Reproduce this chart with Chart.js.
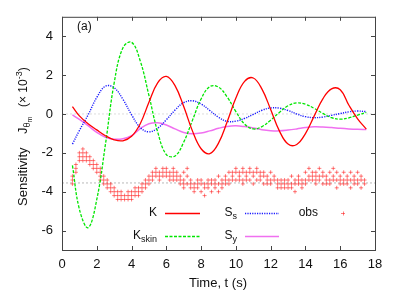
<!DOCTYPE html>
<html>
<head>
<meta charset="utf-8">
<script src="https://cdn.jsdelivr.net/npm/chart.js@4.4.0/dist/chart.umd.min.js"></script>
<style>
html, body { margin: 0; padding: 0; background: #fff; }
</style>
</head>
<body>
<canvas id="chart1" width="399" height="302"></canvas>
<script>
// sample times (s) for the sensitivity curves
const times = [0.6, 1.0, 1.5, 2.0, 2.5, 3.0, 3.5, 4.0, 4.5, 5.0, 5.5, 6.0, 6.5, 7.0, 7.5, 8.0, 8.5,
    9.0, 9.5, 10.0, 10.5, 11.0, 11.5, 12.0, 12.5, 13.0, 13.5, 14.0, 14.5, 15.0, 15.5, 16.0, 16.5, 17.0, 17.5];

// values in units of 1e-3
const kVals = [0.38, -0.1, -0.5, -0.82, -1.12, -1.33, -1.38, -1.15, -0.5, 0.6, 1.6, 1.93, 1.46, 0.38, -0.87, -1.79, -2.04,
    -1.5, -0.4, 0.82, 1.68, 1.85, 1.28, 0.23, -0.87, -1.55, -1.57, -1.01, -0.11, 0.78, 1.29, 1.25, 0.45, -0.25, -0.78];
const kSkinVals = [-2.65, -4.9, -5.85, -4.4, -1.55, 1.6, 3.4, 3.69, 2.73, 0.95, -0.92, -2.09, -2.16, -1.45, -0.33, 0.77, 1.41,
    1.38, 0.87, 0.12, -0.52, -0.77, -0.65, -0.32, 0.08, 0.42, 0.57, 0.5, 0.29, 0.03, -0.19, -0.27, -0.2, -0.06, 0.08];
const ssVals = [-1.55, -0.85, -0.05, 0.85, 1.43, 1.35, 0.76, -0.04, -0.7, -0.92, -0.73, -0.3, 0.2, 0.58, 0.68, 0.51, 0.18,
    -0.17, -0.38, -0.37, -0.23, -0.02, 0.19, 0.31, 0.3, 0.18, 0.0, -0.14, -0.19, -0.16, -0.07, 0.02, 0.11, 0.15, 0.12];
const syVals = [-0.05, -0.28, -0.6, -0.95, -1.2, -1.3, -1.28, -1.12, -0.75, -0.5, -0.45, -0.57, -0.77, -0.95, -1.02, -0.98, -0.87,
    -0.74, -0.64, -0.61, -0.65, -0.72, -0.81, -0.86, -0.87, -0.83, -0.77, -0.7, -0.66, -0.67, -0.7, -0.74, -0.77, -0.79, -0.8];

// observations: [time, values...]
const obsRows = [
    [0.6, -3.2, -3.4, -3.6], [0.8, -2.6, -2.8, -3.0], [1.0, -2.0, -2.2, -2.4], [1.2, -1.8, -2.0, -2.2, -2.4],
    [1.4, -2.0, -2.2, -2.4], [1.6, -2.2, -2.4, -2.6], [1.8, -2.4, -2.6, -2.8], [2.0, -2.6, -2.8, -3.0],
    [2.2, -2.8, -3.0, -3.2, -3.4], [2.4, -3.2, -3.4, -3.6], [2.6, -3.4, -3.6, -3.8], [2.8, -3.6, -3.8, -4.0],
    [3.0, -3.8, -4.0, -4.2], [3.2, -4.0, -4.2, -4.4], [3.4, -4.0, -4.2, -4.4], [3.6, -4.2, -4.4],
    [3.8, -4.0, -4.2, -4.4], [4.0, -4.0, -4.2, -4.4], [4.2, -3.8, -4.0, -4.2], [4.4, -3.8, -4.0, -4.2],
    [4.6, -3.6, -3.8, -4.0], [4.8, -3.4, -3.6, -3.8], [5.0, -3.2, -3.4, -3.6], [5.2, -3.0, -3.2, -3.4],
    [5.4, -2.8, -3.0, -3.2], [5.6, -3.0, -3.2, -3.4], [5.8, -2.8, -3.0, -3.2], [6.0, -2.8, -3.0, -3.2],
    [6.2, -3.0, -3.2, -3.4], [6.4, -2.8, -3.0, -3.2, -3.4], [6.6, -3.0, -3.2, -3.4], [6.8, -3.2, -3.4, -3.6],
    [7.0, -3.0, -3.4, -3.6, -3.8], [7.2, -2.8, -3.2, -3.6], [7.4, -3.4, -3.6, -3.8], [7.6, -3.6, -3.8, -4.0],
    [7.8, -3.4, -3.6, -3.8], [8.0, -3.4, -3.6, -4.0], [8.2, -3.6, -3.8, -4.2], [8.4, -3.4, -3.6, -3.8],
    [8.6, -3.4, -3.6, -4.0], [8.8, -3.4, -3.6, -3.8], [9.0, -3.2, -3.6, -4.0], [9.2, -3.4, -3.6, -3.8],
    [9.4, -3.2, -3.4, -3.6], [9.6, -3.0, -3.4, -3.6], [9.8, -3.0, -3.2, -3.4], [10.0, -2.8, -3.0, -3.4],
    [10.2, -3.0, -3.2, -3.4], [10.4, -2.8, -3.0, -3.4, -3.6], [10.6, -3.0, -3.2, -3.4], [10.8, -2.8, -3.0, -3.4],
    [11.0, -3.0, -3.2, -3.6], [11.2, -2.8, -3.0, -3.4], [11.4, -3.0, -3.2, -3.4], [11.6, -3.0, -3.2, -3.6],
    [11.8, -3.2, -3.4, -3.6], [12.0, -3.0, -3.4, -3.6], [12.2, -3.2, -3.4], [12.4, -3.4, -3.6, -3.8],
    [12.6, -3.4, -3.6, -3.8], [12.8, -3.4, -3.6, -3.8], [13.0, -3.4, -3.6, -3.8], [13.2, -3.2, -3.6, -3.8],
    [13.4, -3.4, -3.6, -4.0], [13.6, -3.2, -3.4, -3.6], [13.8, -3.4, -3.6, -3.8], [14.0, -3.0, -3.4, -3.6],
    [14.2, -2.8, -3.2, -3.4], [14.4, -3.0, -3.2, -3.4], [14.6, -3.0, -3.2, -3.4, -3.6], [14.8, -2.8, -3.2, -3.4],
    [15.0, -3.0, -3.2, -3.6], [15.2, -3.2, -3.4, -3.6], [15.4, -3.0, -3.4, -3.6], [15.6, -2.8, -3.2, -3.4],
    [15.8, -3.0, -3.4, -3.8], [16.0, -3.2, -3.4, -3.6], [16.2, -3.0, -3.4, -3.6], [16.4, -3.2, -3.4, -3.6],
    [16.6, -3.0, -3.4, -3.8], [16.8, -3.2, -3.4, -3.6], [17.0, -3.0, -3.4, -3.6], [17.2, -3.2, -3.4, -3.8],
    [17.4, -3.4, -3.6]
];
const obsMean = -3.55;

const xTicks = [0, 2, 4, 6, 8, 10, 12, 14, 16, 18];
const yTicks = [-6, -4, -2, 0, 2, 4];
const xRange = [0, 18];
const yRange = [-7, 5];

const FONT = "'Liberation Sans', Arial, Helvetica, sans-serif";
const OBS_COLOR = 'rgba(255,20,20,0.55)';

function toPoints(vals) {
    return vals.map((v, i) => ({ x: times[i], y: v }));
}

const obsPoints = [];
obsRows.forEach(row => {
    row.slice(1).forEach(v => obsPoints.push({ x: row[0], y: v }));
});

function lineSet(label, vals, color, dash, width) {
    return {
        label: label,
        data: toPoints(vals),
        borderColor: color,
        backgroundColor: color,
        borderWidth: width,
        borderDash: dash,
        pointRadius: 0,
        tension: 0.4,
        fill: false
    };
}

const seriesK = lineSet('K', kVals, '#ff0000', [], 1.3);
const seriesKskin = lineSet('Kskin', kSkinVals, '#00e600', [3, 1.5], 1.3);
const seriesSs = lineSet('Ss', ssVals, '#1a1aff', [1.2, 1.2], 1.4);
const seriesSy = lineSet('Sy', syVals, '#f070f0', [], 1.5);

const frameTicks = {
    id: 'frameTicks',
    afterDraw(chart) {
        const c = chart.ctx;
        const a = chart.chartArea;
        const xs = chart.scales.x, ys = chart.scales.y;
        c.save();
        c.strokeStyle = '#444';
        c.lineWidth = 1;
        c.setLineDash([]);
        c.strokeRect(a.left + 0.5, a.top + 0.5, a.right - a.left, a.bottom - a.top);
        c.beginPath();
        xTicks.forEach(v => {
            const px = Math.round(xs.getPixelForValue(v)) + 0.5;
            c.moveTo(px, a.bottom); c.lineTo(px, a.bottom - 4);
            c.moveTo(px, a.top); c.lineTo(px, a.top + 4);
        });
        yTicks.forEach(v => {
            const py = Math.round(ys.getPixelForValue(v)) + 0.5;
            c.moveTo(a.left, py); c.lineTo(a.left + 4, py);
            c.moveTo(a.right, py); c.lineTo(a.right - 4, py);
        });
        c.stroke();

        c.fillStyle = '#111';
        // panel tag
        c.font = '12px ' + FONT;
        c.textAlign = 'left';
        c.textBaseline = 'middle';
        c.fillText('(a)', 77, 27);

        // x title
        c.font = '13px ' + FONT;
        c.textAlign = 'center';
        c.textBaseline = 'middle';
        c.fillText('Time, t (s)', 218, 283);

        // y title, rotated, with sub/superscripts
        c.save();
        c.translate(27, 0);
        c.rotate(-Math.PI / 2);
        c.textAlign = 'left';
        c.textBaseline = 'alphabetic';
        c.font = '13px ' + FONT;
        c.fillText('Sensitivity', -206, 0);
        let u = -134;
        c.fillText('J', u, 0);
        u += c.measureText('J').width;
        c.font = '9px ' + FONT;
        c.fillText('\u03b8', u, 3);
        u += c.measureText('\u03b8').width;
        c.font = '7px ' + FONT;
        c.fillText('m', u, 5);
        u = -107;
        c.font = '12px ' + FONT;
        c.fillText('(\u00d7 10', u, 0);
        u += c.measureText('(\u00d7 10').width;
        c.font = '9px ' + FONT;
        c.fillText('-3', u, -5);
        u += c.measureText('-3').width;
        c.font = '12px ' + FONT;
        c.fillText(')', u, 0);
        c.restore();

        // legend
        const items = [
            { ds: seriesK, main: 'K', sub: '', right: 157, y: 213, x0: 165, x1: 200 },
            { ds: seriesKskin, main: 'K', sub: 'skin', right: 157, y: 236, x0: 165, x1: 200 },
            { ds: seriesSs, main: 'S', sub: 's', right: 237, y: 213, x0: 245, x1: 279 },
            { ds: seriesSy, main: 'S', sub: 'y', right: 237, y: 236, x0: 245, x1: 279 }
        ];
        items.forEach(it => {
            c.font = '12px ' + FONT;
            const wm = c.measureText(it.main).width;
            c.font = '9px ' + FONT;
            const wsub = it.sub ? c.measureText(it.sub).width : 0;
            const start = it.right - wm - wsub;
            c.textAlign = 'left';
            c.textBaseline = 'middle';
            c.font = '12px ' + FONT;
            c.fillStyle = '#111';
            c.fillText(it.main, start, it.y);
            if (it.sub) {
                c.font = '9px ' + FONT;
                c.fillText(it.sub, start + wm, it.y + 4);
            }
            c.strokeStyle = it.ds.borderColor;
            c.lineWidth = it.ds.borderWidth;
            c.setLineDash(it.ds.borderDash);
            c.beginPath();
            c.moveTo(it.x0, it.y + 0.5);
            c.lineTo(it.x1, it.y + 0.5);
            c.stroke();
        });
        c.setLineDash([]);
        c.font = '12px ' + FONT;
        c.textAlign = 'right';
        c.fillStyle = '#111';
        c.fillText('obs', 318, 213);
        c.strokeStyle = OBS_COLOR;
        c.lineWidth = 1;
        c.beginPath();
        c.moveTo(341, 213.5); c.lineTo(345, 213.5);
        c.moveTo(343.5, 211.5); c.lineTo(343.5, 215.5);
        c.stroke();
        c.restore();
    }
};

const ctx1 = document.getElementById('chart1').getContext('2d');

const chart1 = new Chart(ctx1, {
    type: 'line',
    data: {
        datasets: [
            seriesK,
            seriesKskin,
            seriesSs,
            seriesSy,
            {
                label: 'obs',
                data: obsPoints,
                showLine: false,
                pointStyle: 'cross',
                pointRadius: 2,
                pointBorderWidth: 1,
                borderColor: OBS_COLOR,
                backgroundColor: OBS_COLOR
            },
            {
                label: 'mean',
                data: [{ x: xRange[0], y: obsMean }, { x: xRange[1], y: obsMean }],
                borderColor: '#b8b8b8',
                borderWidth: 1,
                borderDash: [2, 2],
                pointRadius: 0
            },
            {
                label: 'zero',
                data: [{ x: xRange[0], y: 0 }, { x: xRange[1], y: 0 }],
                borderColor: '#dcdcdc',
                borderWidth: 1,
                borderDash: [2, 2],
                pointRadius: 0
            }
        ]
    },
    options: {
        responsive: false,
        animation: false,
        layout: { padding: { left: 0, right: 24, top: 15, bottom: 0 } },
        plugins: {
            legend: { display: false },
            tooltip: { enabled: false }
        },
        scales: {
            x: {
                type: 'linear',
                min: xRange[0],
                max: xRange[1],
                afterBuildTicks: axis => { axis.ticks = xTicks.map(v => ({ value: v })); },
                afterFit: axis => { axis.height = 52; },
                grid: { display: false, drawTicks: false },
                border: { display: false },
                ticks: {
                    color: '#111',
                    padding: 7,
                    maxRotation: 0,
                    font: { family: FONT, size: 13 }
                }
            },
            y: {
                type: 'linear',
                min: yRange[0],
                max: yRange[1],
                afterBuildTicks: axis => { axis.ticks = yTicks.map(v => ({ value: v })); },
                afterFit: axis => { axis.width = 62; },
                grid: { display: false, drawTicks: false },
                border: { display: false },
                ticks: {
                    color: '#111',
                    padding: 9,
                    font: { family: FONT, size: 13 }
                }
            }
        }
    },
    plugins: [frameTicks]
});
</script>
</body>
</html>
